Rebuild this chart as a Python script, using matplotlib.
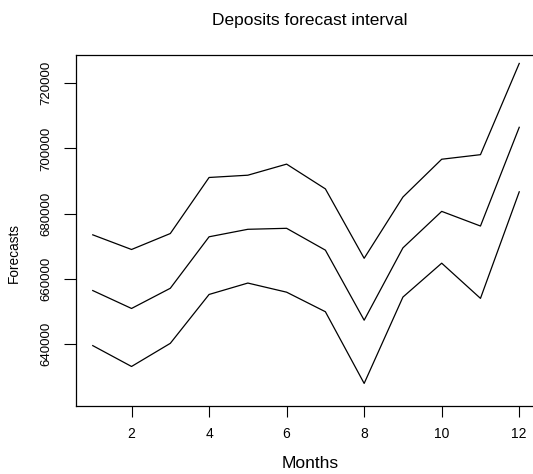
import matplotlib
matplotlib.use("Agg")
import matplotlib.pyplot as plt

plt.rcParams['font.family'] = ['Liberation Sans', 'DejaVu Sans']

months = list(range(1, 13))
upper = [673500, 669000, 673900, 691100, 691800, 695200, 687600, 666300, 685100, 696700, 698100, 726100]
mean = [656400, 650900, 657100, 672900, 675200, 675500, 668800, 647300, 669500, 680700, 676200, 706500]
lower = [639500, 633100, 640200, 655200, 658700, 655900, 649900, 627900, 654400, 664800, 654000, 686700]

xticks = [2, 4, 6, 8, 10, 12]
yticks = [640000, 660000, 680000, 700000, 720000]

W, H = 533, 474
fig = plt.figure(figsize=(W / 100, H / 100), dpi=100)
left, right, top, bottom = 75.7, 536.3, 54.7, 406.0
ax = fig.add_axes([left / W, 1 - bottom / H, (right - left) / W, (bottom - top) / H])

for series in (upper, mean, lower):
    ax.plot(months, series, color='black', linewidth=0.9)

ax.set_xlim(0.56, 12.44)
ax.set_ylim(620970, 728780)
ax.set_xticks(xticks)
ax.set_xticklabels([str(t) for t in xticks])
ax.set_yticks(yticks)
ax.set_yticklabels([str(t) for t in yticks], rotation=90, va='center')

ax.tick_params(axis='x', length=8, width=0.8, pad=7, labelsize=10)
ax.tick_params(axis='y', length=9, width=0.8, pad=8, labelsize=9.5)
for s in ax.spines.values():
    s.set_linewidth(0.9)

fig.text(310 / W, 1 - 25 / H, 'Deposits forecast interval', ha='center', va='baseline', fontsize=12.5)
fig.text(310 / W, 1 - 463 / H, 'Months', ha='center', va='center', fontsize=12.5)
fig.text(14 / W, 1 - 253 / H, 'Forecasts', ha='center', va='center', rotation=90, fontsize=9.8)

fig.savefig('out.png', dpi=100)
